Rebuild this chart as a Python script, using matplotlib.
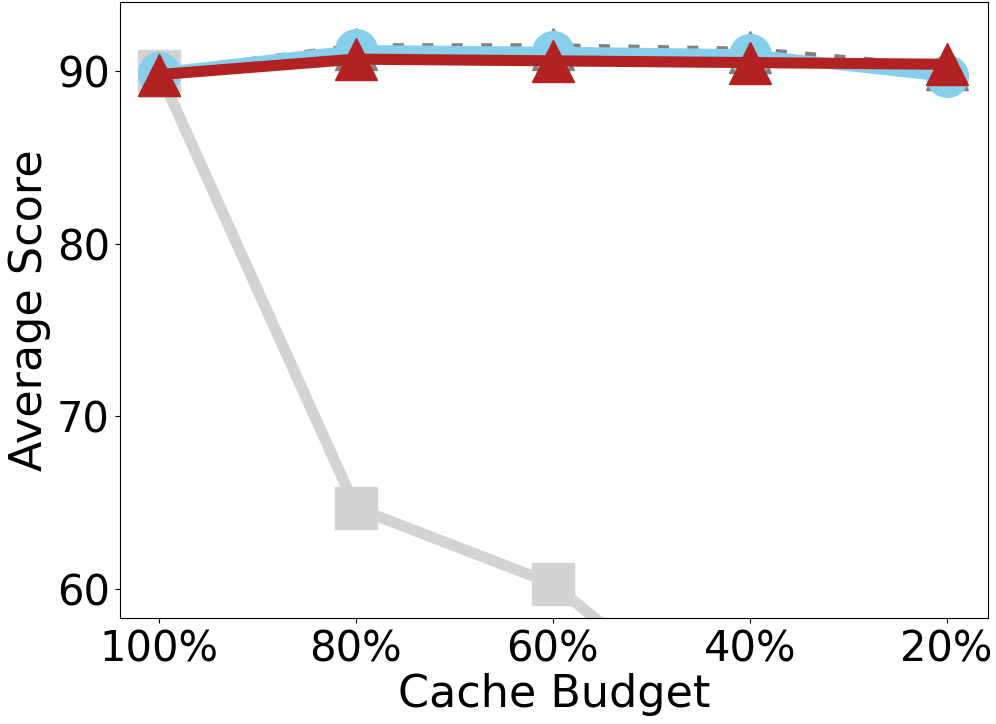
import numpy as np
import matplotlib
matplotlib.use('agg')
import matplotlib.pyplot as plt

budgets = ['100%', '80%', '60%', '40%', '20%']
square_vals = [90.0, 64.7, 60.3, 51.0, 45.0]
dashed_vals = [89.8, 91.3, 91.3, 91.1, 90.1]
circle_vals = [89.9, 91.2, 91.1, 90.95, 89.7]
red_vals = [89.8, 90.7, 90.6, 90.5, 90.4]

x = np.arange(len(budgets))

fig, ax = plt.subplots(figsize=(9.96, 7.24), dpi=100)
ax.plot(x, square_vals, color='lightgray', marker='s', markersize=30, linewidth=8)
ax.plot(x, dashed_vals, color='gray', marker='^', markersize=30, linewidth=8, linestyle=':')
ax.plot(x, circle_vals, color='skyblue', marker='o', markersize=30, linewidth=8)
ax.plot(x, red_vals, color='firebrick', marker='^', markersize=30, linewidth=8)

ax.set_xticks(x)
ax.set_xticklabels(budgets)
ax.set_ylim(58.3, 94.0)
ax.set_xlim(-0.2, 4.21)
ax.set_yticks([60, 70, 80, 90])
ax.tick_params(labelsize=30)
ax.set_xlabel('Cache Budget', fontsize=32, labelpad=2)
ax.set_ylabel('Average Score', fontsize=32, labelpad=4)

plt.subplots_adjust(left=0.12, right=0.992, top=0.997, bottom=0.146)
plt.savefig('out.png', dpi=100)
